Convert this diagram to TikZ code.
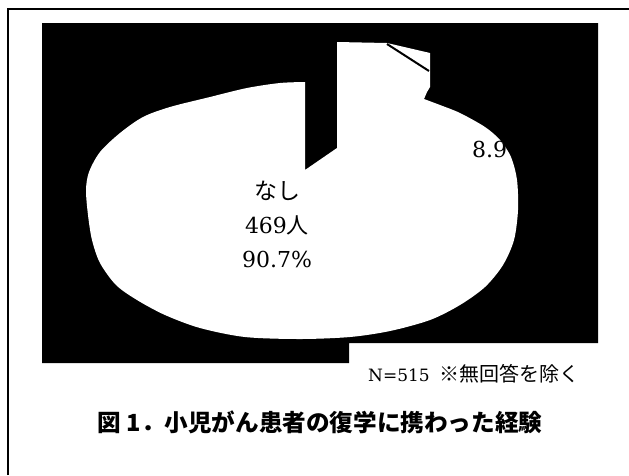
\documentclass[tikz,border=0pt]{standalone}
\usepackage{fontspec}
\setmainfont{DejaVu Serif}
\newfontfamily\jp{Noto Sans CJK JP}
\newcommand\pieshape{(305,82) -- plot[smooth] coordinates {(305,82) (280,83) (247,88) (210,97) (170,107) (143,117) (120,133) (100,152) (89,172) (86,190) (88,215) (92,240) (100,263) (116,285) (137,300) (165,315) (200,328) (245,337) (300,339) (350,337) (390,331) (430,320) (460,305) (485,287) (503,265) (514,240) (518,210) (517,180) (511,157) (500,140) (485,127) (460,113) (440,105) (424,99)} -- (427,92) -- (430,87) -- (430,53) -- (387,43) -- (337,42) -- (337,148) -- (305,170) -- cycle}
\tikzset{
  lbl/.style={inner sep=0pt, font=\fontsize{22}{26}\selectfont},
  note/.style={inner sep=0pt, font=\fontsize{17}{20}\selectfont},
  ttl/.style={inner sep=0pt, font=\jp\bfseries\fontsize{23.6}{27}\selectfont},
}
\begin{document}
\begin{tikzpicture}[x=1pt,y=-1pt]
\useasboundingbox (0,0) rectangle (629,475);
% outer frame
\coordinate (fl) at (8,475);
\coordinate (ftl) at (8,9);
\coordinate (ftr) at (629,9);
\draw[line width=2pt] (fl) -- (ftl) -- (ftr);
% black chart area
\fill[black] (42,23) -- (598,23) -- (598,343) -- (349,343) -- (349,363) -- (42,363) -- cycle;
% pie (white)
\fill[white] \pieshape;
\coordinate (d1) at (387,44);
\coordinate (d2) at (429,71);
\draw[line width=2pt] (d1) -- (d2);
\begin{scope}
\clip \pieshape;
\node[lbl, anchor=base west] (p2) at (472,157) {8.9\%};
\end{scope}
\node[lbl, anchor=base] (p1a) at (277,199) {\jp\fontsize{23}{26}\selectfont なし};
\node[lbl, anchor=base] (p1b) at (277,233) {469{\jp 人}};
\node[lbl, anchor=base] (p1c) at (277,267) {90.7\%};
% notes
\node[note, anchor=base west] (n) at (368,381) {N=515\hspace{10pt}{\jp\fontsize{20}{22}\selectfont ※無回答を除く}};
\node[ttl] (t) at (320,422) {図 1．小児がん患者の復学に携わった経験};
\end{tikzpicture}
\end{document}
